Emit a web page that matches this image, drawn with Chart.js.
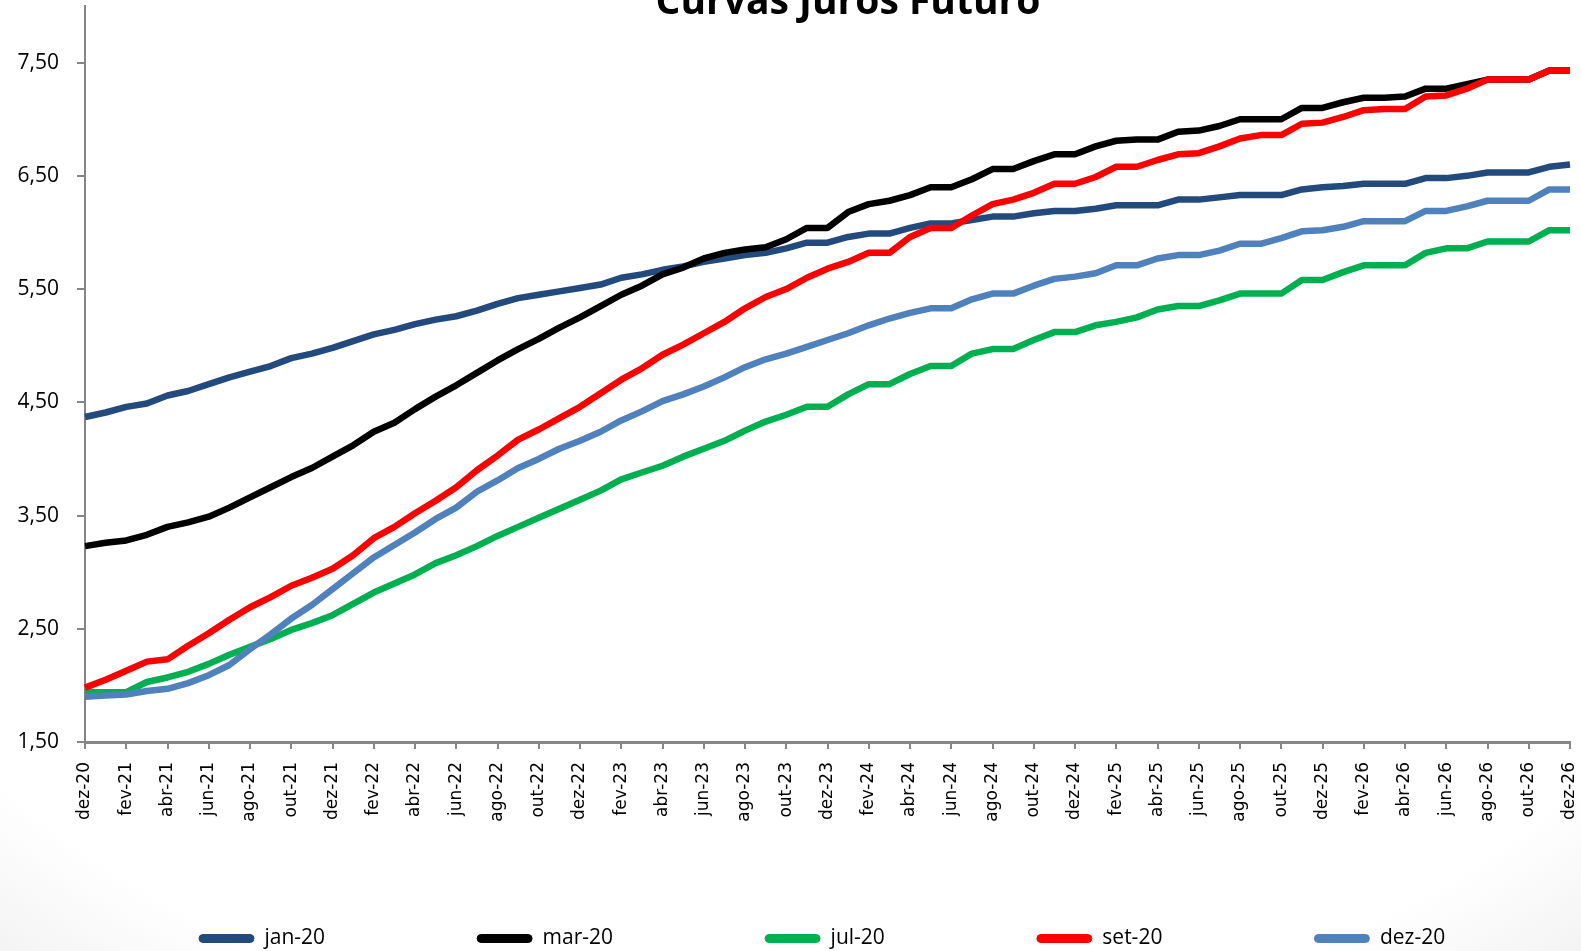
<!DOCTYPE html>
<html>
<head>
<meta charset="utf-8">
<script src="https://cdn.jsdelivr.net/npm/chart.js@4"></script>
<style>
  html, body { margin: 0; padding: 0; }
  body {
    width: 1581px;
    height: 951px;
    overflow: hidden;
    background: radial-gradient(ellipse 80% 90% at 50% 40%, #ffffff 78%, #ececec 100%);
  }
  canvas { display: block; }
</style>
</head>
<body>
<canvas id="jurosChart" width="1581" height="951"></canvas>
<script>
const chartTitle = "Curvas Juros Futuro";

const categories = [
  "dez-20",
  "jan-21", "fev-21", "mar-21", "abr-21", "mai-21", "jun-21", "jul-21", "ago-21", "set-21", "out-21", "nov-21", "dez-21",
  "jan-22", "fev-22", "mar-22", "abr-22", "mai-22", "jun-22", "jul-22", "ago-22", "set-22", "out-22", "nov-22", "dez-22",
  "jan-23", "fev-23", "mar-23", "abr-23", "mai-23", "jun-23", "jul-23", "ago-23", "set-23", "out-23", "nov-23", "dez-23",
  "jan-24", "fev-24", "mar-24", "abr-24", "mai-24", "jun-24", "jul-24", "ago-24", "set-24", "out-24", "nov-24", "dez-24",
  "jan-25", "fev-25", "mar-25", "abr-25", "mai-25", "jun-25", "jul-25", "ago-25", "set-25", "out-25", "nov-25", "dez-25",
  "jan-26", "fev-26", "mar-26", "abr-26", "mai-26", "jun-26", "jul-26", "ago-26", "set-26", "out-26", "nov-26", "dez-26"
];

const seriesNames = ["jan-20", "mar-20", "jul-20", "set-20", "dez-20"];
const seriesColors = ["#234a7d", "#000000", "#00b050", "#ff0000", "#4f81bd"];

const jan20 = [
  4.37, 4.41, 4.46, 4.49, 4.56, 4.60, 4.66, 4.72, 4.77, 4.82,
  4.89, 4.93, 4.98, 5.04, 5.10, 5.14, 5.19, 5.23, 5.26, 5.31,
  5.37, 5.42, 5.45, 5.48, 5.51, 5.54, 5.60, 5.63, 5.67, 5.70,
  5.74, 5.77, 5.80, 5.82, 5.86, 5.91, 5.91, 5.96, 5.99, 5.99,
  6.04, 6.08, 6.08, 6.11, 6.14, 6.14, 6.17, 6.19, 6.19, 6.21,
  6.24, 6.24, 6.24, 6.29, 6.29, 6.31, 6.33, 6.33, 6.33, 6.38,
  6.40, 6.41, 6.43, 6.43, 6.43, 6.48, 6.48, 6.50, 6.53, 6.53,
  6.53, 6.58, 6.60
];
const mar20 = [
  3.23, 3.26, 3.28, 3.33, 3.40, 3.44, 3.49, 3.57, 3.66, 3.75,
  3.84, 3.92, 4.02, 4.12, 4.24, 4.32, 4.44, 4.55, 4.65, 4.76,
  4.87, 4.97, 5.06, 5.16, 5.25, 5.35, 5.45, 5.53, 5.63, 5.69,
  5.77, 5.82, 5.85, 5.87, 5.94, 6.04, 6.04, 6.18, 6.25, 6.28,
  6.33, 6.40, 6.40, 6.47, 6.56, 6.56, 6.63, 6.69, 6.69, 6.76,
  6.81, 6.82, 6.82, 6.89, 6.90, 6.94, 7.00, 7.00, 7.00, 7.10,
  7.10, 7.15, 7.19, 7.19, 7.20, 7.27, 7.27, 7.31, 7.35, 7.35,
  7.35, 7.43, 7.43
];
const jul20 = [
  1.94, 1.94, 1.94, 2.03, 2.07, 2.12, 2.19, 2.27, 2.34, 2.41,
  2.49, 2.55, 2.62, 2.72, 2.82, 2.90, 2.98, 3.08, 3.15, 3.23,
  3.32, 3.40, 3.48, 3.56, 3.64, 3.72, 3.82, 3.88, 3.94, 4.02,
  4.09, 4.16, 4.25, 4.33, 4.39, 4.46, 4.46, 4.57, 4.66, 4.66,
  4.75, 4.82, 4.82, 4.93, 4.97, 4.97, 5.05, 5.12, 5.12, 5.18,
  5.21, 5.25, 5.32, 5.35, 5.35, 5.40, 5.46, 5.46, 5.46, 5.58,
  5.58, 5.65, 5.71, 5.71, 5.71, 5.82, 5.86, 5.86, 5.92, 5.92,
  5.92, 6.02, 6.02
];
const set20 = [
  1.98, 2.05, 2.13, 2.21, 2.23, 2.35, 2.46, 2.58, 2.69, 2.78,
  2.88, 2.95, 3.03, 3.15, 3.30, 3.40, 3.52, 3.63, 3.75, 3.90,
  4.03, 4.17, 4.26, 4.36, 4.46, 4.58, 4.70, 4.80, 4.92, 5.01,
  5.11, 5.21, 5.33, 5.43, 5.50, 5.60, 5.68, 5.74, 5.82, 5.82,
  5.96, 6.04, 6.04, 6.15, 6.25, 6.29, 6.35, 6.43, 6.43, 6.49,
  6.58, 6.58, 6.64, 6.69, 6.70, 6.76, 6.83, 6.86, 6.86, 6.96,
  6.97, 7.02, 7.08, 7.09, 7.09, 7.20, 7.21, 7.27, 7.35, 7.35,
  7.35, 7.43, 7.43
];
const dez20 = [
  1.90, 1.91, 1.92, 1.95, 1.97, 2.02, 2.09, 2.18, 2.32, 2.45,
  2.59, 2.71, 2.85, 2.99, 3.13, 3.24, 3.35, 3.47, 3.57, 3.71,
  3.81, 3.92, 4.00, 4.09, 4.16, 4.24, 4.34, 4.42, 4.51, 4.57,
  4.64, 4.72, 4.81, 4.88, 4.93, 4.99, 5.05, 5.11, 5.18, 5.24,
  5.29, 5.33, 5.33, 5.41, 5.46, 5.46, 5.53, 5.59, 5.61, 5.64,
  5.71, 5.71, 5.77, 5.80, 5.80, 5.84, 5.90, 5.90, 5.95, 6.01,
  6.02, 6.05, 6.10, 6.10, 6.10, 6.19, 6.19, 6.23, 6.28, 6.28,
  6.28, 6.38, 6.38
];

const yTicks = [1.5, 2.5, 3.5, 4.5, 5.5, 6.5, 7.5];

const seriesData = [jan20, mar20, jul20, set20, dez20];
const axisGray = "#868686";

// excel draws the last series on top, chart.js the first one -> reverse via order
const datasets = seriesNames.map((name, i) => ({
  label: name,
  data: seriesData[i],
  borderColor: seriesColors[i],
  backgroundColor: seriesColors[i],
  borderWidth: 6.5,
  pointRadius: 0,
  tension: 0,
  fill: false,
  borderJoinStyle: "round",
  order: seriesNames.length - i
}));

// title sits half outside the top edge, like the original
const titlePlugin = {
  id: "curvasTitle",
  afterDraw(chart) {
    const ctx = chart.ctx;
    ctx.save();
    ctx.font = "bold 39px 'Open Sans'";
    ctx.fillStyle = "#000";
    ctx.textAlign = "center";
    ctx.textBaseline = "alphabetic";
    ctx.fillText(chartTitle, 848, 14);
    ctx.restore();
  }
};

// nudge legend row right/down, and let the rotated x labels run below the axis box
const layoutTweaks = {
  id: "layoutTweaks",
  afterLayout(chart) {
    chart.legend.left += 47;
    chart.legend.right += 47;
    chart.legend.top += 8;
    chart.legend.bottom += 8;
    chart.scales.x.bottom = chart.height;
  }
};

const ctxJuros = document.getElementById("jurosChart").getContext("2d");
const jurosChart = new Chart(ctxJuros, {
  type: "line",
  data: {
    labels: categories,
    datasets: datasets
  },
  plugins: [titlePlugin, layoutTweaks],
  options: {
    responsive: false,
    animation: false,
    layout: {
      padding: { top: 6, left: 0, right: 11, bottom: 0 }
    },
    plugins: {
      title: { display: false },
      tooltip: { enabled: false },
      legend: {
        position: "bottom",
        align: "start",
        labels: {
          boxWidth: 55,
          boxHeight: 8,
          padding: 152,
          color: "#000",
          font: { family: "'Open Sans'", size: 21 },
          useBorderRadius: true,
          borderRadius: 4,
          sort: (a, b) => a.datasetIndex - b.datasetIndex,
          generateLabels: chart =>
            Chart.defaults.plugins.legend.labels.generateLabels(chart).map(item => ({ ...item, lineWidth: 1 }))
        }
      }
    },
    scales: {
      x: {
        offset: false,
        grid: { drawOnChartArea: false, tickLength: 7, color: axisGray, lineWidth: 2 },
        border: { display: true, color: axisGray, width: 3 },
        ticks: {
          autoSkip: false,
          minRotation: 90,
          maxRotation: 90,
          padding: 13,
          color: "#000",
          font: { family: "'DejaVu Sans'", size: 17 },
          callback: (v, i) => (i % 2 === 0 ? categories[i] : null)
        },
        afterFit(scale) {
          scale.height = 26;
          scale.paddingLeft = 0;
          scale.paddingRight = 0;
        }
      },
      y: {
        min: 1.5,
        max: 8,
        afterBuildTicks(scale) {
          scale.ticks = yTicks.map(v => ({ value: v }));
        },
        grid: { drawOnChartArea: false, tickLength: 8, color: axisGray, lineWidth: 2 },
        border: { color: axisGray, width: 2 },
        ticks: {
          padding: 18,
          color: "#000",
          font: { family: "'Open Sans'", size: 21 },
          callback: v => v.toFixed(2).replace(".", ",")
        },
        afterFit(scale) {
          scale.width = 85;
          scale.paddingTop = 0;
          scale.paddingBottom = 0;
        }
      }
    }
  }
});
</script>
</body>
</html>
